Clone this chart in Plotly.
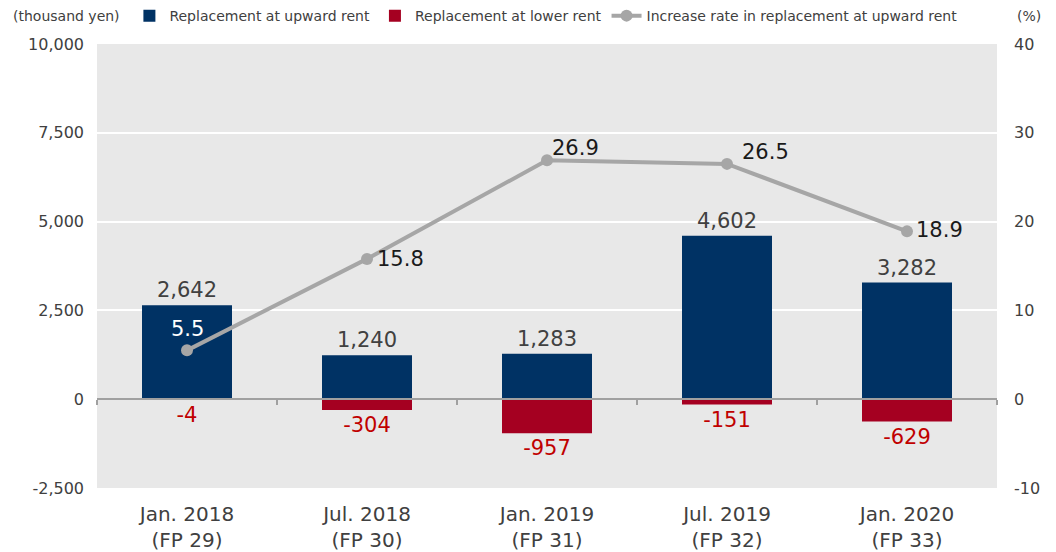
import plotly.graph_objects as go

categories = ["Jan. 2018<br>(FP 29)", "Jul. 2018<br>(FP 30)", "Jan. 2019<br>(FP 31)",
              "Jul. 2019<br>(FP 32)", "Jan. 2020<br>(FP 33)"]
upward = [2642, 1240, 1283, 4602, 3282]
lower = [-4, -304, -957, -151, -629]
rate = [5.5, 15.8, 26.9, 26.5, 18.9]
left_ticks = [-2500, 0, 2500, 5000, 7500, 10000]
left_labels = ["-2,500", "0", "2,500", "5,000", "7,500", "10,000"]
right_ticks = [-10, 0, 10, 20, 30, 40]
right_labels = ["-10", "0", "10", "20", "30", "40"]

FONT = "DejaVu Sans"
NAVY = "#003264"
RED = "#A50021"
GRAY = "#A6A6A6"
xs = list(range(len(categories)))

fig = go.Figure()
fig.add_trace(go.Bar(
    x=xs, y=upward, name="Replacement at upward rent",
    marker=dict(color=NAVY, line=dict(width=0)), width=0.5,
    text=[f"{v:,}" for v in upward], textposition="outside",
    textfont=dict(size=21, color="#404040", family=FONT), cliponaxis=False,
))
fig.add_trace(go.Bar(
    x=xs, y=lower, name="Replacement at lower rent",
    marker=dict(color=RED, line=dict(width=0)), width=0.5,
    text=[f"{v:,}" for v in lower], textposition="outside",
    textfont=dict(size=21, color="#C00000", family=FONT), cliponaxis=False,
))
fig.add_trace(go.Scatter(
    x=xs, y=rate, name="Increase rate in replacement at upward rent", yaxis="y2",
    mode="lines+markers",
    line=dict(color=GRAY, width=4), marker=dict(color=GRAY, size=12),
    cliponaxis=False,
))
# helper axis carrying the zero-line tick marks at category boundaries
fig.add_trace(go.Scatter(x=xs, y=[None] * len(xs), xaxis="x2", yaxis="y", showlegend=False,
                         hoverinfo="skip", mode="lines"))

# line value labels (offsets in pixels)
shifts = [(0, 21), (33, 0), (28, 12), (38, 12), (32, 1)]
colors = ["white", "#1a1a1a", "#1a1a1a", "#1a1a1a", "#1a1a1a"]
annotations = []
for x, v, (dx, dy), c in zip(xs, rate, shifts, colors):
    annotations.append(dict(x=x, y=v, xref="x", yref="y2", text=f"{v:.1f}", showarrow=False,
                            xshift=dx, yshift=dy, xanchor="center", yanchor="middle",
                            font=dict(size=21, color=c, family=FONT)))
annotations += [
    dict(text="(thousand yen)", xref="paper", yref="paper", x=-0.096, y=1.063,
         xanchor="left", yanchor="middle", showarrow=False,
         font=dict(size=14, color="#404040", family=FONT)),
    dict(text="(%)", xref="paper", yref="paper", x=1.02, y=1.063,
         xanchor="left", yanchor="middle", showarrow=False,
         font=dict(size=14, color="#404040", family=FONT)),
]

fig.update_layout(
    width=1056, height=552,
    margin=dict(l=89, r=67, t=36, b=72, autoexpand=False),
    paper_bgcolor="white", plot_bgcolor="#E8E8E8",
    barmode="overlay",
    font=dict(family=FONT, color="#404040"),
    showlegend=True,
    legend=dict(orientation="h", x=0.036, y=1.063, xanchor="left", yanchor="middle",
                font=dict(size=14, color="#404040", family=FONT), bgcolor="rgba(0,0,0,0)",
                itemwidth=30, tracegroupgap=0),
    xaxis=dict(
        range=[-0.5, 4.5], tickmode="array", tickvals=xs, ticktext=categories,
        showgrid=False, zeroline=False, showline=False, ticks="", automargin=False,
        tickfont=dict(size=20, color="#404040", family=FONT), ticklabelstandoff=12,
    ),
    xaxis2=dict(
        overlaying="x", anchor="free", position=0.2, range=[-0.5, 4.5],
        tickmode="array", tickvals=[-0.5, 0.5, 1.5, 2.5, 3.5, 4.5],
        ticks="outside", ticklen=5, tickcolor="#A0A0A0", tickwidth=1.5,
        showticklabels=False, showgrid=False, zeroline=False, automargin=False,
        showline=True, linecolor="#A0A0A0", linewidth=1.5,
    ),
    yaxis=dict(
        range=[-2500, 10000], tickmode="array", tickvals=left_ticks, ticktext=left_labels,
        showgrid=True, gridcolor="white", gridwidth=1.5, zeroline=False, automargin=False,
        tickfont=dict(size=16, color="#404040", family=FONT), ticks="", ticklabelstandoff=12,
    ),
    yaxis2=dict(
        overlaying="y", side="right", range=[-10, 40], tickmode="array",
        tickvals=right_ticks, ticktext=right_labels,
        showgrid=False, zeroline=False, automargin=False,
        tickfont=dict(size=16, color="#404040", family=FONT), ticklabelstandoff=16,
    ),
    annotations=annotations,
)

fig.write_html("out.html")
